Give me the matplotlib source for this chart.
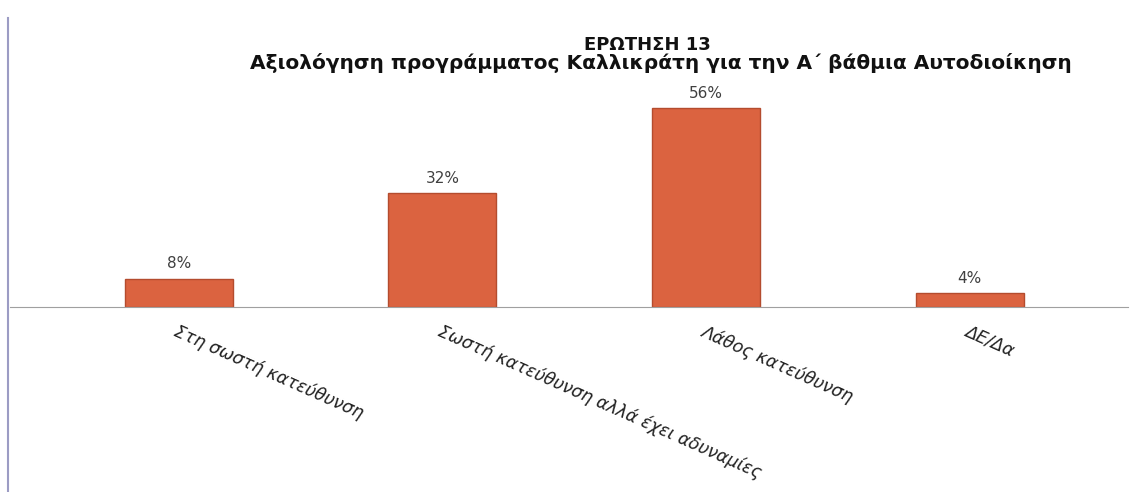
import matplotlib.pyplot as plt
from matplotlib.lines import Line2D

categories = ['Στη σωστή κατεύθυνση',
              'Σωστή κατεύθυνση αλλά έχει αδυναμίες',
              'Λάθος κατεύθυνση',
              'ΔΕ/Δα']
values = [8, 32, 56, 4]
value_labels = ['8%', '32%', '56%', '4%']

plt.rcParams['font.family'] = ['DejaVu Sans']

fig = plt.figure(figsize=(11.38, 4.92), dpi=100)
ax = fig.add_axes([10 / 1138, (492 - 307) / 492, 1118 / 1138, 287 / 492])

x = range(len(categories))
ax.bar(x, values, width=0.41, color='#DB6340', edgecolor='#B44C2E', linewidth=1.0)
for i, v in enumerate(values):
    ax.text(i, v + 2.0, value_labels[i], ha='center', va='bottom', fontsize=11, color='#404040')

ax.set_xlim(-0.64, 3.6)
ax.set_ylim(0, 80.8)
ax.set_xticks(list(x))
ax.set_xticklabels(categories, rotation=-24, ha='left', rotation_mode='anchor',
                   fontsize=12.5, style='italic', color='#222222')
ax.tick_params(axis='x', length=0, pad=11)
ax.set_yticks([])
for s in ['top', 'left', 'right']:
    ax.spines[s].set_visible(False)
ax.spines['bottom'].set_color('#a0a0a0')

fig.text(647 / 1138, 1 - 45 / 492, 'ΕΡΩΤΗΣΗ 13', ha='center', va='center',
         fontsize=13, fontweight='bold', color='#111111')
fig.text(661 / 1138, 1 - 63 / 492,
         'Αξιολόγηση προγράμματος Καλλικράτη για την Α΄ βάθμια Αυτοδιοίκηση',
         ha='center', va='center', fontsize=14.5, fontweight='bold', color='#111111')

# left frame line
fig.add_artist(Line2D([8 / 1138, 8 / 1138], [0, 1 - 18 / 492], color='#9c9cc4', linewidth=1.5))

fig.savefig('out.png', dpi=100)
